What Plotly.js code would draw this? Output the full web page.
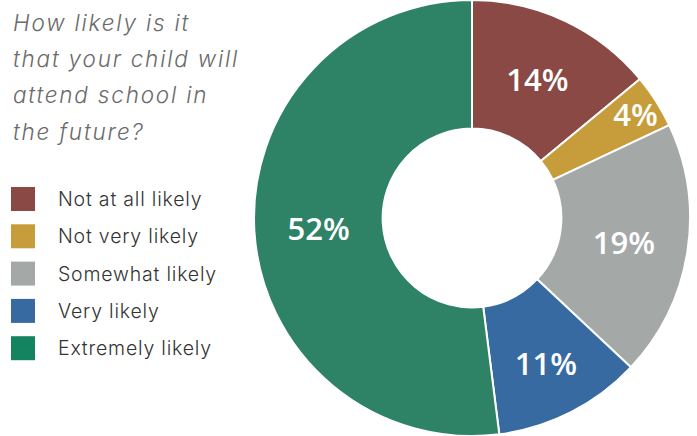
<!DOCTYPE html>
<html>
<head>
<meta charset="utf-8">
<script src="https://cdn.plot.ly/plotly-3.0.1.min.js"></script>
<style>
html,body{margin:0;padding:0;background:#fff;}
#chart{width:697px;height:436px;}
#chart g.annotation[data-index="0"] text,
#chart g.annotation[data-index="1"] text,
#chart g.annotation[data-index="2"] text,
#chart g.annotation[data-index="3"] text { letter-spacing: 1.8px; }
#chart g.annotation[data-index="4"] text,
#chart g.annotation[data-index="5"] text,
#chart g.annotation[data-index="6"] text,
#chart g.annotation[data-index="7"] text,
#chart g.annotation[data-index="8"] text { letter-spacing: 0.8px; }
</style>
</head>
<body>
<div id="chart"></div>
<script>
const categories = ["Not at all likely", "Not very likely", "Somewhat likely", "Very likely", "Extremely likely"];
const values = [14, 4, 19, 11, 52];
const colors = ["#8A4944", "#C79D3B", "#A4A9A8", "#366AA0", "#2E8367"];
const legendColors = ["#8A4944", "#C79D3B", "#A4A9A8", "#366AA0", "#13845F"];
const titleLines = ["How likely is it", "that your child will", "attend school in", "the future?"];

const W = 697, H = 436;
const px = x => x / W;
const py = y => 1 - y / H;

const annotations = [];
const shapes = [];

titleLines.forEach((t, i) => {
  annotations.push({
    text: t, xref: "paper", yref: "paper",
    x: px(11), y: py(22 + i * 36.5), align: "left",
    xanchor: "left", yanchor: "middle", showarrow: false,
    font: {family: "Inter, sans-serif", size: 22.5, color: "#6b6b6b", style: "italic", weight: 300}
  });
});

categories.forEach((c, i) => {
  const cy = 199 + i * 37.3;
  shapes.push({
    type: "rect", xref: "paper", yref: "paper",
    x0: px(11), x1: px(35), y0: py(cy - 12), y1: py(cy + 12),
    fillcolor: legendColors[i], line: {width: 0}
  });
  annotations.push({
    text: c, xref: "paper", yref: "paper",
    x: px(56), y: py(cy), align: "left",
    xanchor: "left", yanchor: "middle", showarrow: false,
    font: {family: "Inter, sans-serif", size: 19.5, color: "#333333", weight: 300}
  });
});

const trace = {
  type: "pie",
  labels: categories,
  values: values,
  hole: 0.41,
  sort: false,
  direction: "clockwise",
  rotation: 0,
  marker: {colors: colors, line: {color: "#ffffff", width: 2}},
  texttemplate: "%{value}%",
  textinfo: "text",
  textposition: "inside",
  insidetextorientation: "horizontal",
  insidetextfont: {family: "'Open Sans', sans-serif", size: 31, color: "#ffffff", weight: 600},
  domain: {x: [(472 - 219) / W, (472 + 219) / W], y: [0, 1]},
  hoverinfo: "label+percent"
};

const layout = {
  width: W, height: H,
  margin: {l: 0, r: 0, t: 0, b: 0},
  paper_bgcolor: "#ffffff",
  showlegend: false,
  uniformtext: {mode: "show", minsize: 31},
  annotations: annotations,
  shapes: shapes
};

Plotly.newPlot("chart", [trace], layout, {displayModeBar: false, staticPlot: true});
</script>
</body>
</html>
